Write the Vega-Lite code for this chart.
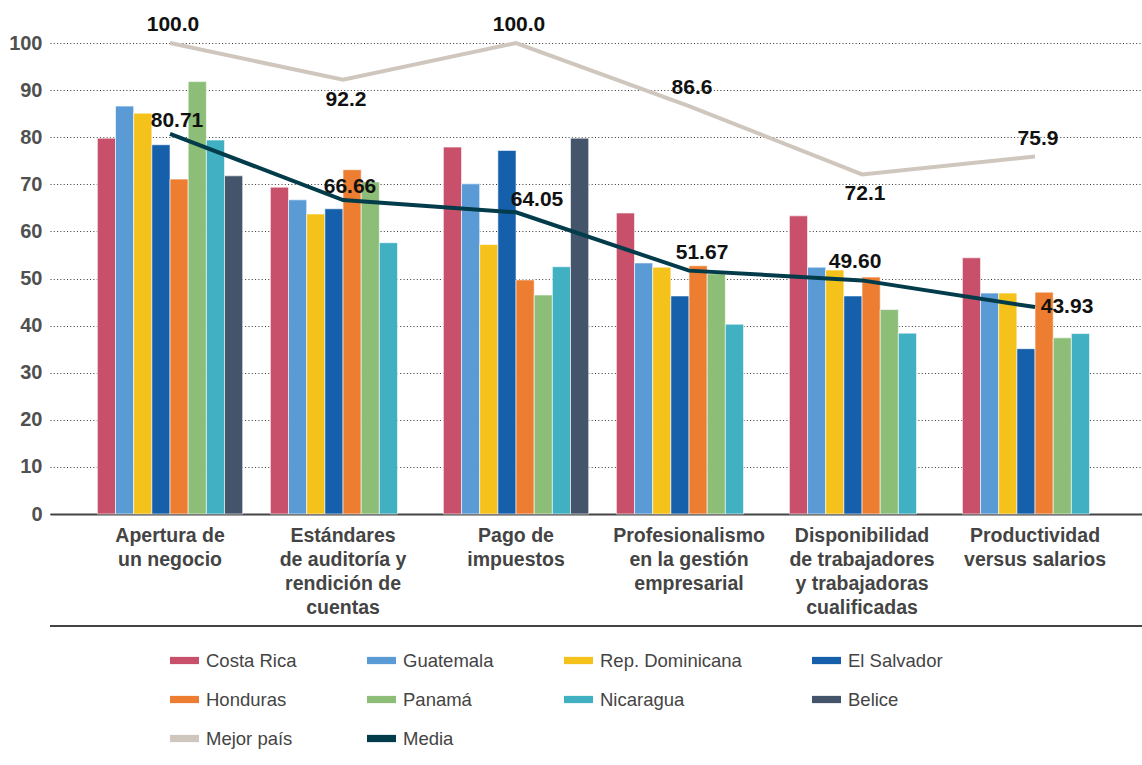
{
  "$schema": "https://vega.github.io/schema/vega-lite/v6.json",
  "autosize": {"type": "none"},
  "width": 1092,
  "height": 471,
  "padding": {"left": 50, "top": 43, "right": 0, "bottom": 251},
  "config": {"view": {"stroke": null}, "font": "Liberation Sans"},
  "data": {"values": [
    {"categoria": "Apertura de un negocio", "serie": "Costa Rica", "valor": 79.8},
    {"categoria": "Apertura de un negocio", "serie": "Guatemala", "valor": 86.6},
    {"categoria": "Apertura de un negocio", "serie": "Rep. Dominicana", "valor": 85.1},
    {"categoria": "Apertura de un negocio", "serie": "El Salvador", "valor": 78.4},
    {"categoria": "Apertura de un negocio", "serie": "Honduras", "valor": 71.1},
    {"categoria": "Apertura de un negocio", "serie": "Panamá", "valor": 91.8},
    {"categoria": "Apertura de un negocio", "serie": "Nicaragua", "valor": 79.4},
    {"categoria": "Apertura de un negocio", "serie": "Belice", "valor": 71.8},
    {"categoria": "Apertura de un negocio", "serie": "Mejor país", "valor": 100.0},
    {"categoria": "Apertura de un negocio", "serie": "Media", "valor": 80.71},
    {"categoria": "Estándares de auditoría y rendición de cuentas", "serie": "Costa Rica", "valor": 69.4},
    {"categoria": "Estándares de auditoría y rendición de cuentas", "serie": "Guatemala", "valor": 66.7},
    {"categoria": "Estándares de auditoría y rendición de cuentas", "serie": "Rep. Dominicana", "valor": 63.7},
    {"categoria": "Estándares de auditoría y rendición de cuentas", "serie": "El Salvador", "valor": 64.8},
    {"categoria": "Estándares de auditoría y rendición de cuentas", "serie": "Honduras", "valor": 73.1},
    {"categoria": "Estándares de auditoría y rendición de cuentas", "serie": "Panamá", "valor": 70.5},
    {"categoria": "Estándares de auditoría y rendición de cuentas", "serie": "Nicaragua", "valor": 57.6},
    {"categoria": "Estándares de auditoría y rendición de cuentas", "serie": "Mejor país", "valor": 92.2},
    {"categoria": "Estándares de auditoría y rendición de cuentas", "serie": "Media", "valor": 66.66},
    {"categoria": "Pago de impuestos", "serie": "Costa Rica", "valor": 77.9},
    {"categoria": "Pago de impuestos", "serie": "Guatemala", "valor": 70.1},
    {"categoria": "Pago de impuestos", "serie": "Rep. Dominicana", "valor": 57.2},
    {"categoria": "Pago de impuestos", "serie": "El Salvador", "valor": 77.2},
    {"categoria": "Pago de impuestos", "serie": "Honduras", "valor": 49.7},
    {"categoria": "Pago de impuestos", "serie": "Panamá", "valor": 46.5},
    {"categoria": "Pago de impuestos", "serie": "Nicaragua", "valor": 52.5},
    {"categoria": "Pago de impuestos", "serie": "Belice", "valor": 79.8},
    {"categoria": "Pago de impuestos", "serie": "Mejor país", "valor": 100.0},
    {"categoria": "Pago de impuestos", "serie": "Media", "valor": 64.05},
    {"categoria": "Profesionalismo en la gestión empresarial", "serie": "Costa Rica", "valor": 63.9},
    {"categoria": "Profesionalismo en la gestión empresarial", "serie": "Guatemala", "valor": 53.3},
    {"categoria": "Profesionalismo en la gestión empresarial", "serie": "Rep. Dominicana", "valor": 52.4},
    {"categoria": "Profesionalismo en la gestión empresarial", "serie": "El Salvador", "valor": 46.3},
    {"categoria": "Profesionalismo en la gestión empresarial", "serie": "Honduras", "valor": 52.7},
    {"categoria": "Profesionalismo en la gestión empresarial", "serie": "Panamá", "valor": 51.0},
    {"categoria": "Profesionalismo en la gestión empresarial", "serie": "Nicaragua", "valor": 40.3},
    {"categoria": "Profesionalismo en la gestión empresarial", "serie": "Mejor país", "valor": 86.6},
    {"categoria": "Profesionalismo en la gestión empresarial", "serie": "Media", "valor": 51.67},
    {"categoria": "Disponibilidad de trabajadores y trabajadoras cualificadas", "serie": "Costa Rica", "valor": 63.3},
    {"categoria": "Disponibilidad de trabajadores y trabajadoras cualificadas", "serie": "Guatemala", "valor": 52.4},
    {"categoria": "Disponibilidad de trabajadores y trabajadoras cualificadas", "serie": "Rep. Dominicana", "valor": 51.8},
    {"categoria": "Disponibilidad de trabajadores y trabajadoras cualificadas", "serie": "El Salvador", "valor": 46.3},
    {"categoria": "Disponibilidad de trabajadores y trabajadoras cualificadas", "serie": "Honduras", "valor": 50.3},
    {"categoria": "Disponibilidad de trabajadores y trabajadoras cualificadas", "serie": "Panamá", "valor": 43.4},
    {"categoria": "Disponibilidad de trabajadores y trabajadoras cualificadas", "serie": "Nicaragua", "valor": 38.4},
    {"categoria": "Disponibilidad de trabajadores y trabajadoras cualificadas", "serie": "Mejor país", "valor": 72.1},
    {"categoria": "Disponibilidad de trabajadores y trabajadoras cualificadas", "serie": "Media", "valor": 49.60},
    {"categoria": "Productividad versus salarios", "serie": "Costa Rica", "valor": 54.4},
    {"categoria": "Productividad versus salarios", "serie": "Guatemala", "valor": 46.9},
    {"categoria": "Productividad versus salarios", "serie": "Rep. Dominicana", "valor": 46.9},
    {"categoria": "Productividad versus salarios", "serie": "El Salvador", "valor": 35.1},
    {"categoria": "Productividad versus salarios", "serie": "Honduras", "valor": 47.1},
    {"categoria": "Productividad versus salarios", "serie": "Panamá", "valor": 37.4},
    {"categoria": "Productividad versus salarios", "serie": "Nicaragua", "valor": 38.3},
    {"categoria": "Productividad versus salarios", "serie": "Mejor país", "valor": 75.9},
    {"categoria": "Productividad versus salarios", "serie": "Media", "valor": 43.93}
  ]},
  "layer": [
    {
      "mark": {"type": "rule", "color": "#444444", "strokeWidth": 2, "clip": false},
      "encoding": {"y": {"datum": -23.8, "type": "quantitative"}}
    },
    {
      "transform": [{"filter": "datum.serie != 'Mejor país' && datum.serie != 'Media'"}],
      "mark": {"type": "bar", "stroke": "white", "strokeWidth": 0.6},
      "encoding": {
        "x": {
          "field": "categoria", "type": "nominal",
          "sort": ["Apertura de un negocio", "Estándares de auditoría y rendición de cuentas", "Pago de impuestos", "Profesionalismo en la gestión empresarial", "Disponibilidad de trabajadores y trabajadoras cualificadas", "Productividad versus salarios"],
          "scale": {"paddingInner": 0.16, "paddingOuter": 0.236, "align": 0.58},
          "axis": {
            "title": null, "domain": true, "domainColor": "#444444", "domainWidth": 2, "ticks": false,
            "labelAngle": 0, "labelFontSize": 19.5, "labelFontWeight": "bold", "labelColor": "#444444",
            "labelPadding": 12, "labelLineHeight": 24, "labelLimit": 250, "labelBaseline": "top",
            "labelExpr": "datum.value == 'Apertura de un negocio' ? ['Apertura de','un negocio'] : datum.value == 'Estándares de auditoría y rendición de cuentas' ? ['Estándares','de auditoría y','rendición de','cuentas'] : datum.value == 'Pago de impuestos' ? ['Pago de','impuestos'] : datum.value == 'Profesionalismo en la gestión empresarial' ? ['Profesionalismo','en la gestión','empresarial'] : datum.value == 'Disponibilidad de trabajadores y trabajadoras cualificadas' ? ['Disponibilidad','de trabajadores','y trabajadoras','cualificadas'] : ['Productividad','versus salarios']"
          }
        },
        "xOffset": {"field": "serie", "type": "nominal", "scale": {"domain": ["Costa Rica", "Guatemala", "Rep. Dominicana", "El Salvador", "Honduras", "Panamá", "Nicaragua", "Belice"], "paddingInner": 0, "paddingOuter": 0}},
        "y": {
          "field": "valor", "type": "quantitative",
          "scale": {"domain": [0, 100]},
          "axis": {"title": null, "values": [0, 10, 20, 30, 40, 50, 60, 70, 80, 90, 100], "grid": true, "gridDash": [1, 2.3], "gridColor": "#333333", "gridWidth": 1, "domain": false, "ticks": false, "labelFontSize": 20, "labelFontWeight": "bold", "labelColor": "#505050", "labelPadding": 8}
        },
        "color": {
          "field": "serie", "type": "nominal",
          "scale": {
            "domain": ["Costa Rica", "Guatemala", "Rep. Dominicana", "El Salvador", "Honduras", "Panamá", "Nicaragua", "Belice", "Mejor país", "Media"],
            "range": ["#C8506A", "#5B9BD5", "#F5C21B", "#1660AB", "#ED7D31", "#8CBE78", "#40B0C2", "#44546A", "#CFC7BE", "#023B4A"]
          },
          "legend": {
            "title": null, "orient": "none", "legendX": 120, "legendY": 603, "direction": "horizontal", "columns": 4,
            "values": ["Costa Rica", "Guatemala", "Rep. Dominicana", "El Salvador", "Honduras", "Panamá", "Nicaragua", "Belice", "Mejor país", "Media"],
            "symbolType": "M-1,-0.25H1V0.25H-1Z", "symbolSize": 841, "symbolStrokeWidth": 0,
            "labelFontSize": 18.5, "labelColor": "#444444", "labelOffset": 7, "columnPadding": 70, "rowPadding": 15
          }
        }
      }
    },
    {
      "transform": [{"filter": "datum.serie == 'Mejor país'"}],
      "mark": {"type": "line", "color": "#CFC7BE", "strokeWidth": 4},
      "encoding": {
        "x": {"field": "categoria", "type": "nominal", "sort": ["Apertura de un negocio", "Estándares de auditoría y rendición de cuentas", "Pago de impuestos", "Profesionalismo en la gestión empresarial", "Disponibilidad de trabajadores y trabajadoras cualificadas", "Productividad versus salarios"]},
        "y": {"field": "valor", "type": "quantitative"}
      }
    },
    {
      "transform": [{"filter": "datum.serie == 'Media'"}],
      "mark": {"type": "line", "color": "#023B4A", "strokeWidth": 4},
      "encoding": {
        "x": {"field": "categoria", "type": "nominal", "sort": ["Apertura de un negocio", "Estándares de auditoría y rendición de cuentas", "Pago de impuestos", "Profesionalismo en la gestión empresarial", "Disponibilidad de trabajadores y trabajadoras cualificadas", "Productividad versus salarios"]},
        "y": {"field": "valor", "type": "quantitative"}
      }
    },
    {
      "transform": [{"filter": "datum.serie == 'Mejor país' && indexof(['Apertura de un negocio','Pago de impuestos','Profesionalismo en la gestión empresarial','Productividad versus salarios'], datum.categoria) >= 0"}],
      "mark": {"type": "text", "fontSize": 21, "fontWeight": "bold", "color": "#111111", "align": "center", "baseline": "middle", "dx": 3, "dy": -18},
      "encoding": {
        "x": {"field": "categoria", "type": "nominal", "sort": ["Apertura de un negocio", "Estándares de auditoría y rendición de cuentas", "Pago de impuestos", "Profesionalismo en la gestión empresarial", "Disponibilidad de trabajadores y trabajadoras cualificadas", "Productividad versus salarios"]},
        "y": {"field": "valor", "type": "quantitative"},
        "text": {"field": "valor", "type": "quantitative", "format": ".1f"}
      }
    },
    {
      "transform": [{"filter": "datum.serie == 'Mejor país' && indexof(['Estándares de auditoría y rendición de cuentas','Disponibilidad de trabajadores y trabajadoras cualificadas'], datum.categoria) >= 0"}],
      "mark": {"type": "text", "fontSize": 21, "fontWeight": "bold", "color": "#111111", "align": "center", "baseline": "middle", "dx": 3, "dy": 20},
      "encoding": {
        "x": {"field": "categoria", "type": "nominal", "sort": ["Apertura de un negocio", "Estándares de auditoría y rendición de cuentas", "Pago de impuestos", "Profesionalismo en la gestión empresarial", "Disponibilidad de trabajadores y trabajadoras cualificadas", "Productividad versus salarios"]},
        "y": {"field": "valor", "type": "quantitative"},
        "text": {"field": "valor", "type": "quantitative", "format": ".1f"}
      }
    },
    {
      "transform": [{"filter": "datum.serie == 'Media' && indexof(['Apertura de un negocio','Estándares de auditoría y rendición de cuentas'], datum.categoria) >= 0"}],
      "mark": {"type": "text", "fontSize": 21, "fontWeight": "bold", "color": "#111111", "align": "center", "baseline": "middle", "dx": 7, "dy": -13},
      "encoding": {
        "x": {"field": "categoria", "type": "nominal", "sort": ["Apertura de un negocio", "Estándares de auditoría y rendición de cuentas", "Pago de impuestos", "Profesionalismo en la gestión empresarial", "Disponibilidad de trabajadores y trabajadoras cualificadas", "Productividad versus salarios"]},
        "y": {"field": "valor", "type": "quantitative"},
        "text": {"field": "valor", "type": "quantitative", "format": ".2f"}
      }
    },
    {
      "transform": [{"filter": "datum.serie == 'Media' && datum.categoria == 'Pago de impuestos'"}],
      "mark": {"type": "text", "fontSize": 21, "fontWeight": "bold", "color": "#111111", "align": "center", "baseline": "middle", "dx": 21, "dy": -12},
      "encoding": {
        "x": {"field": "categoria", "type": "nominal", "sort": ["Apertura de un negocio", "Estándares de auditoría y rendición de cuentas", "Pago de impuestos", "Profesionalismo en la gestión empresarial", "Disponibilidad de trabajadores y trabajadoras cualificadas", "Productividad versus salarios"]},
        "y": {"field": "valor", "type": "quantitative"},
        "text": {"field": "valor", "type": "quantitative", "format": ".2f"}
      }
    },
    {
      "transform": [{"filter": "datum.serie == 'Media' && datum.categoria == 'Profesionalismo en la gestión empresarial'"}],
      "mark": {"type": "text", "fontSize": 21, "fontWeight": "bold", "color": "#111111", "align": "center", "baseline": "middle", "dx": 13, "dy": -18},
      "encoding": {
        "x": {"field": "categoria", "type": "nominal", "sort": ["Apertura de un negocio", "Estándares de auditoría y rendición de cuentas", "Pago de impuestos", "Profesionalismo en la gestión empresarial", "Disponibilidad de trabajadores y trabajadoras cualificadas", "Productividad versus salarios"]},
        "y": {"field": "valor", "type": "quantitative"},
        "text": {"field": "valor", "type": "quantitative", "format": ".2f"}
      }
    },
    {
      "transform": [{"filter": "datum.serie == 'Media' && datum.categoria == 'Disponibilidad de trabajadores y trabajadoras cualificadas'"}],
      "mark": {"type": "text", "fontSize": 21, "fontWeight": "bold", "color": "#111111", "align": "center", "baseline": "middle", "dx": -7, "dy": -18},
      "encoding": {
        "x": {"field": "categoria", "type": "nominal", "sort": ["Apertura de un negocio", "Estándares de auditoría y rendición de cuentas", "Pago de impuestos", "Profesionalismo en la gestión empresarial", "Disponibilidad de trabajadores y trabajadoras cualificadas", "Productividad versus salarios"]},
        "y": {"field": "valor", "type": "quantitative"},
        "text": {"field": "valor", "type": "quantitative", "format": ".2f"}
      }
    },
    {
      "transform": [{"filter": "datum.serie == 'Media' && datum.categoria == 'Productividad versus salarios'"}],
      "mark": {"type": "text", "fontSize": 21, "fontWeight": "bold", "color": "#111111", "align": "center", "baseline": "middle", "dx": 32, "dy": 0},
      "encoding": {
        "x": {"field": "categoria", "type": "nominal", "sort": ["Apertura de un negocio", "Estándares de auditoría y rendición de cuentas", "Pago de impuestos", "Profesionalismo en la gestión empresarial", "Disponibilidad de trabajadores y trabajadoras cualificadas", "Productividad versus salarios"]},
        "y": {"field": "valor", "type": "quantitative"},
        "text": {"field": "valor", "type": "quantitative", "format": ".2f"}
      }
    }
  ]
}
